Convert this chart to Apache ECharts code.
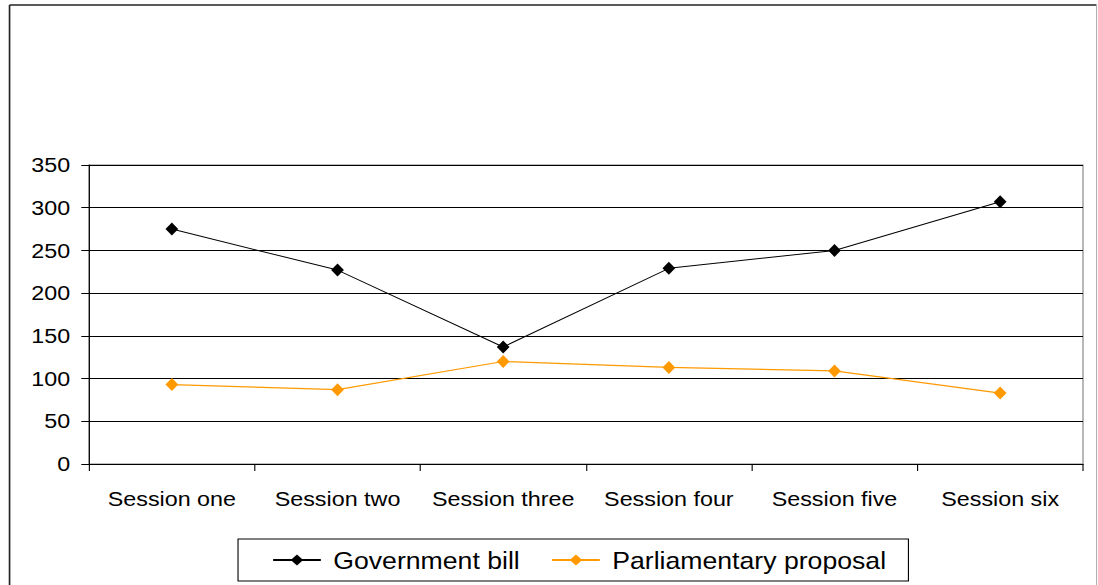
<!DOCTYPE html>
<html>
<head>
<meta charset="utf-8">
<script src="https://cdn.jsdelivr.net/npm/echarts@6/dist/echarts.min.js"></script>
<style>
  html, body { margin: 0; padding: 0; background: #fff; overflow: hidden; }
  /* chart is laid out on a narrower canvas and widened horizontally */
  #chart { width: 989px; height: 585px; transform: scaleX(1.1102); transform-origin: 0 0; }
</style>
</head>
<body>
<div id="chart"></div>
<script>
const categories = ['Session one', 'Session two', 'Session three', 'Session four', 'Session five', 'Session six'];
const governmentBill = [275, 227, 137, 229, 250, 307];
const parliamentaryProposal = [93, 87, 120, 113, 109, 83];
const seriesNames = ['Government bill', 'Parliamentary proposal'];

const FONT = "'Liberation Sans', Arial, sans-serif";
const chart = echarts.init(document.getElementById('chart'), null, { renderer: 'svg' });

chart.setOption({
  animation: false,
  backgroundColor: '#fff',
  grid: {
    left: 80.2, right: 13.5, top: 165, bottom: 121,
    show: true, borderColor: '#808080', borderWidth: 1, backgroundColor: 'transparent'
  },
  legend: {
    data: seriesNames,
    left: 214.4, top: 539,
    orient: 'horizontal',
    padding: [9, 20, 9, 30.6],
    borderColor: '#000', borderWidth: 1,
    itemWidth: 43, itemHeight: 14, itemGap: 28,
    textStyle: { fontFamily: FONT, fontSize: 24, color: '#000', padding: [0, 0, 0, 6.2] }
  },
  xAxis: {
    type: 'category',
    data: categories,
    boundaryGap: true,
    axisLine: { show: true, lineStyle: { color: '#000', width: 1 } },
    axisTick: { show: true, length: 7, lineStyle: { color: '#000' } },
    axisLabel: { fontFamily: FONT, fontSize: 21, color: '#000', margin: 24, interval: 0 },
    splitLine: { show: false }
  },
  yAxis: {
    type: 'value',
    min: 0, max: 350, interval: 50,
    axisLine: { show: true, lineStyle: { color: '#000', width: 1 } },
    axisTick: { show: true, length: 7, lineStyle: { color: '#000' } },
    axisLabel: { fontFamily: FONT, fontSize: 21, color: '#000', margin: 17 },
    splitLine: { show: true, lineStyle: { color: '#000', width: 1 } }
  },
  series: [
    {
      name: seriesNames[0],
      type: 'line',
      data: governmentBill,
      color: '#000',
      lineStyle: { color: '#000', width: 1 },
      symbol: 'diamond',
      symbolSize: [11.5, 13],
      itemStyle: { color: '#000' }
    },
    {
      name: seriesNames[1],
      type: 'line',
      data: parliamentaryProposal,
      color: '#FF9900',
      lineStyle: { color: '#FF9900', width: 1.2 },
      symbol: 'diamond',
      symbolSize: [11.5, 13],
      itemStyle: { color: '#FF9900' }
    }
  ],
  graphic: [
    // chart frame: dark top and left edges, light right edge
    { type: 'line', silent: true, shape: { x1: 8.6, y1: 5, x2: 987.7, y2: 5 }, style: { stroke: '#222', lineWidth: 1.5 } },
    { type: 'line', silent: true, shape: { x1: 8.6, y1: 5, x2: 8.6, y2: 600 }, style: { stroke: '#222', lineWidth: 1.5 } },
    { type: 'line', silent: true, shape: { x1: 987.7, y1: 5, x2: 987.7, y2: 600 }, style: { stroke: '#b0b0b0', lineWidth: 1 } }
  ]
});
</script>
</body>
</html>
